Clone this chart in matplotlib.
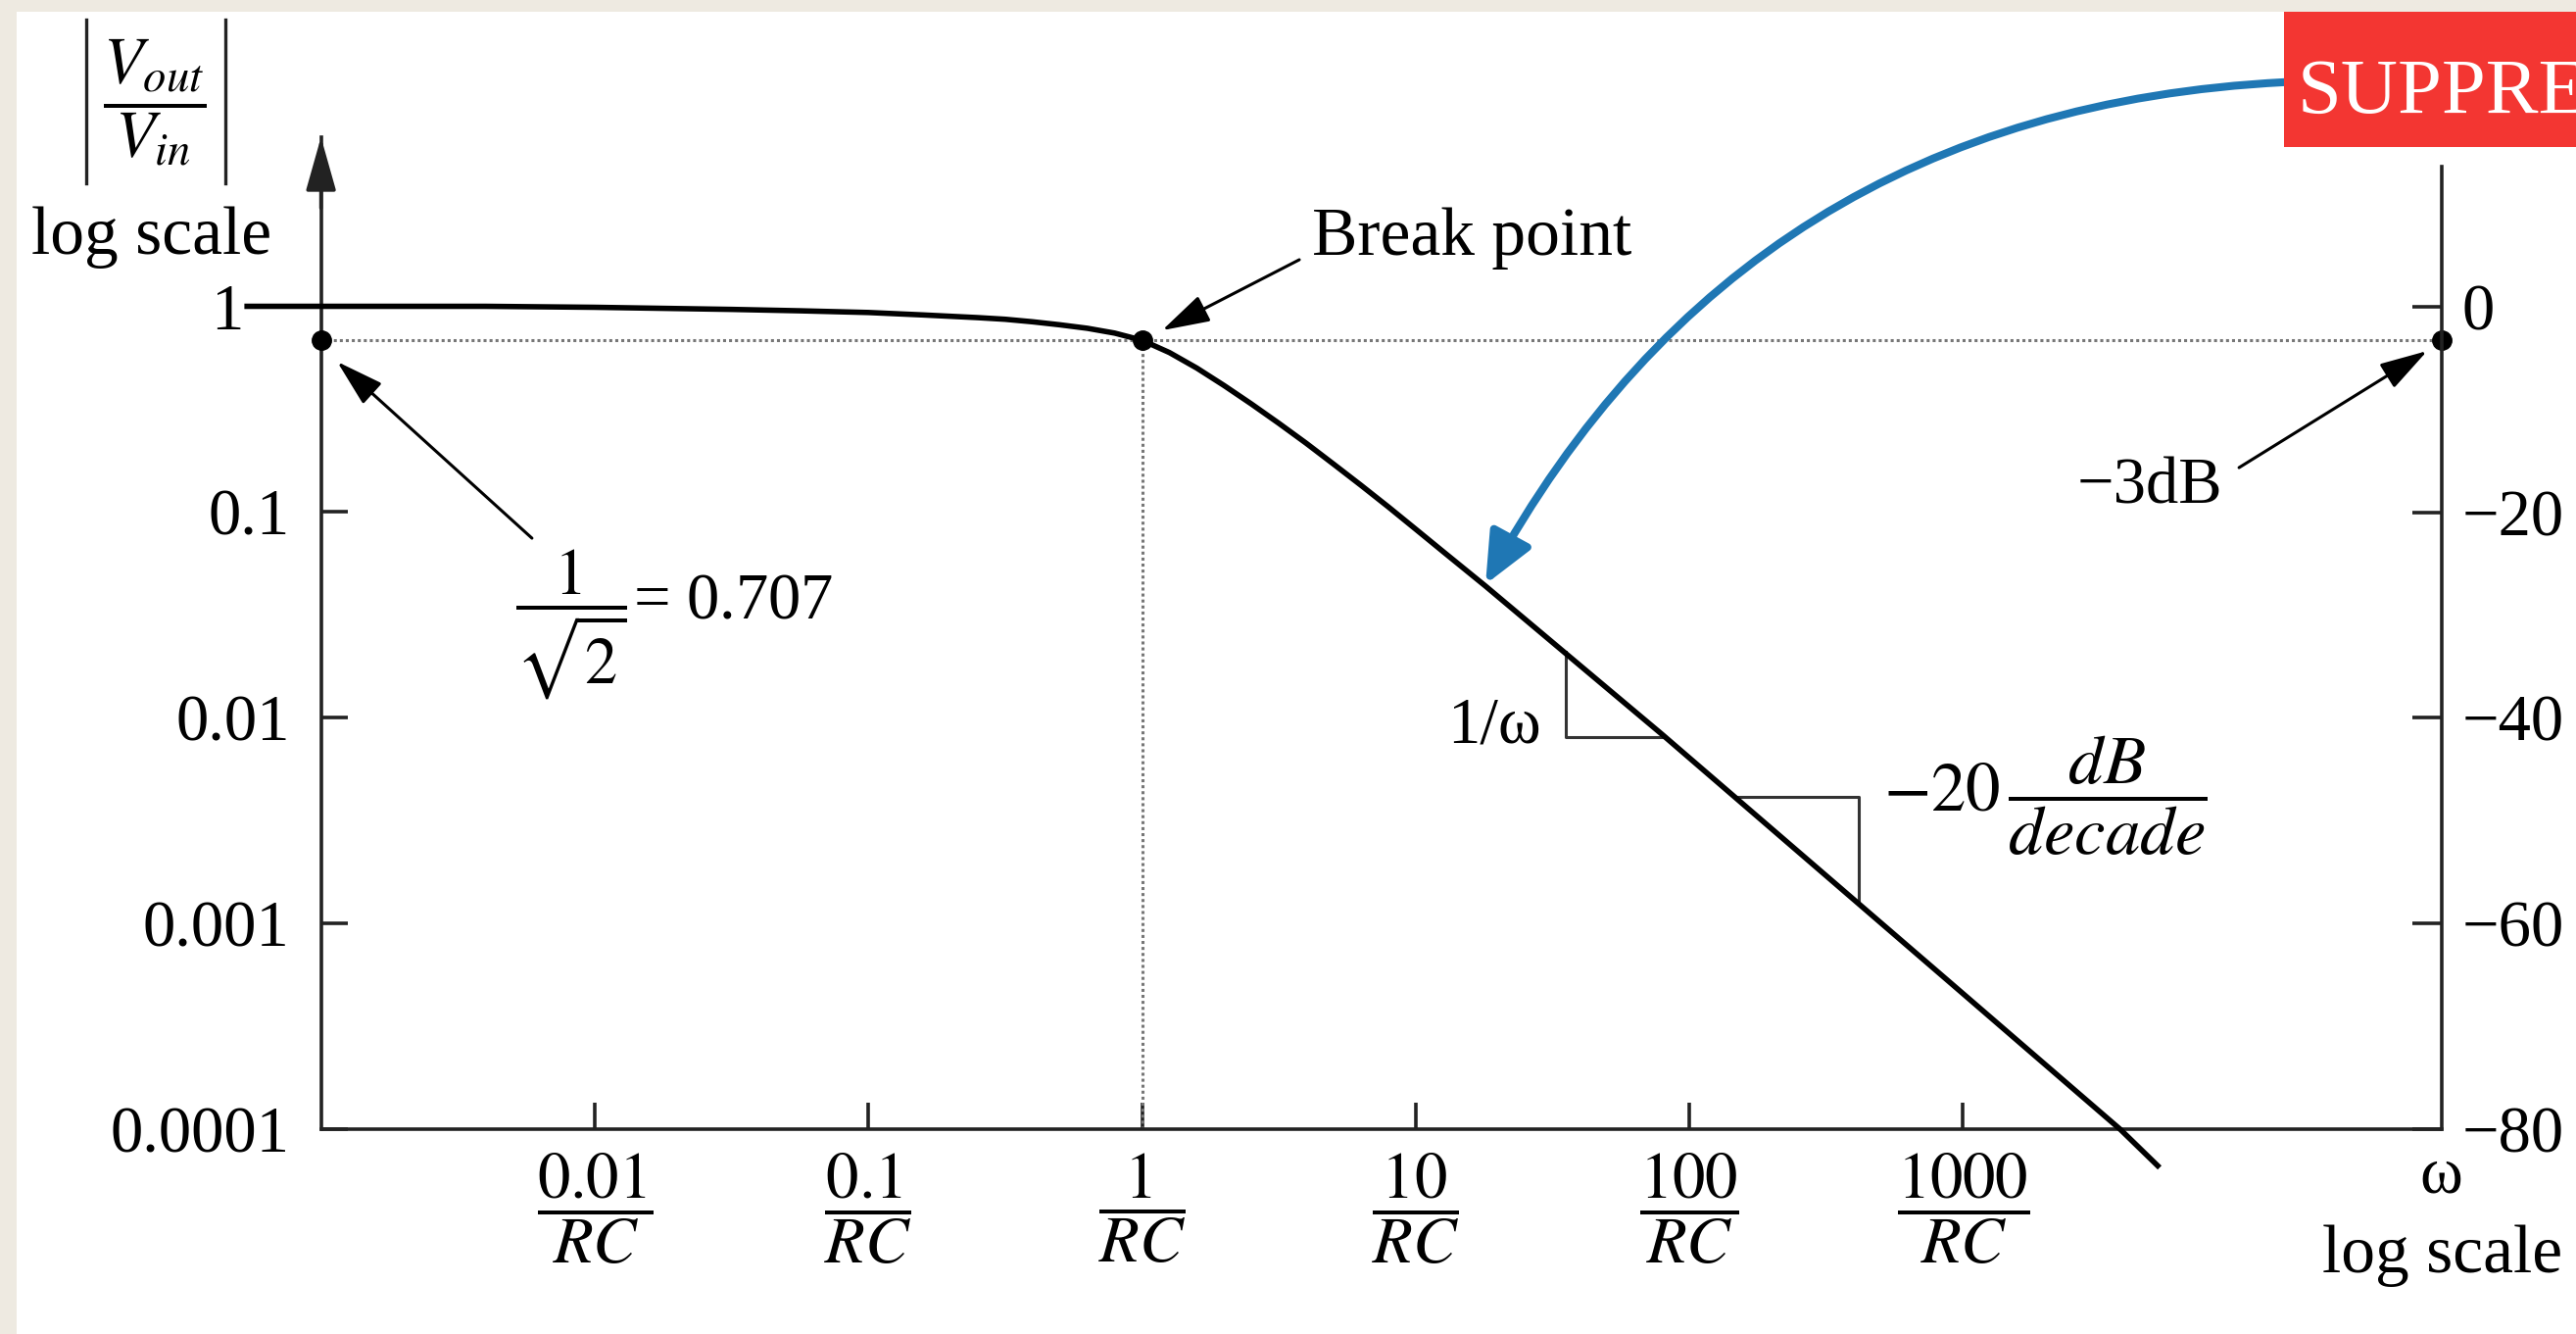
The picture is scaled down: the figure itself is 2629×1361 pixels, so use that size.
import matplotlib
matplotlib.use("Agg")
import matplotlib.pyplot as plt
from matplotlib.patches import Rectangle
from matplotlib.lines import Line2D
from matplotlib.ticker import NullLocator

plt.rcParams['font.family'] = 'Liberation Serif'
plt.rcParams['mathtext.fontset'] = 'stix'

# magnitude curve (w in units of 1/RC)
w = [0.000537, 0.00398, 0.01, 0.0316, 0.0562, 0.1, 0.158, 0.251, 0.316, 0.398,
     0.501, 0.631, 0.794, 1.0, 1.259, 1.585, 1.995, 2.512, 3.162, 3.981,
     5.012, 6.310, 7.943, 10.0, 12.59, 17.99, 79.43, 1000, 3758, 5140]
gain = [1.0, 1.0, 0.989, 0.966, 0.951, 0.933, 0.908, 0.881, 0.865, 0.841,
        0.813, 0.782, 0.741, 0.684, 0.596, 0.501, 0.412, 0.335, 0.270, 0.216,
        0.171, 0.135, 0.106, 0.0826, 0.0643, 0.0437, 0.00832, 0.000457, 0.0001, 0.0000667]

break_w = 1.0
break_gain = 0.684

x_ticks = [0.01, 0.1, 1, 10, 100, 1000]
x_labels = [r'$\dfrac{0.01}{RC}$', r'$\dfrac{0.1}{RC}$', r'$\dfrac{1}{RC}$',
            r'$\dfrac{10}{RC}$', r'$\dfrac{100}{RC}$', r'$\dfrac{1000}{RC}$']
y_ticks = [1, 0.1, 0.01, 0.001, 0.0001]
y_labels = ['', '0.1', '0.01', '0.001', '0.0001']
db_ticks = [0, -20, -40, -60, -80]
db_labels = ['0', '\u221220', '\u221240', '\u221260', '\u221280']

# slope triangles
tri1_w = [35.3, 35.3, 81.9]
tri1_g = [0.0209, 0.00805, 0.00805]
tri2_w = [146, 416, 416]
tri2_g = [0.00413, 0.00413, 0.00125]

xmin, xmax = 1e-3, 56100
ymin, ymax = 1e-4, 6.63
W, H = 2629, 1361

fig = plt.figure(figsize=(W / 100, H / 100), dpi=100, facecolor='#eeeae1')
fig.add_artist(Rectangle((17 / W, 0), 1, 1 - 12 / H, transform=fig.transFigure,
                         facecolor='white', edgecolor='none', zorder=-10))

ax = fig.add_axes([0.12461, 0.15327, 0.82328, 0.74386])
ax.patch.set_visible(False)
ax.set_xscale('log')
ax.set_yscale('log')
ax.set_xlim(xmin, xmax)
ax.set_ylim(ymin, ymax)
ax.set_xticks(x_ticks, x_labels)
ax.set_yticks(y_ticks, y_labels)
ax.xaxis.set_minor_locator(NullLocator())
ax.yaxis.set_minor_locator(NullLocator())
ax.tick_params(axis='y', direction='in', length=19.5, width=2.6, pad=23,
               labelsize=48, color='#222')
ax.tick_params(axis='x', direction='in', length=19.5, width=2.6, pad=16,
               labelsize=48, color='#222')
ax.spines['top'].set_visible(False)
ax.spines['right'].set_visible(False)
for s in ['left', 'bottom']:
    ax.spines[s].set_linewidth(2.6)
    ax.spines[s].set_color('#222')

ax2 = ax.twinx()
ax2.set_ylim(-80, 16.44)
ax2.set_yticks(db_ticks, db_labels)
for s in ['top', 'left', 'bottom']:
    ax2.spines[s].set_visible(False)
ax2.spines['right'].set_bounds(-80, 13.58)
ax2.spines['right'].set_linewidth(2.6)
ax2.spines['right'].set_color('#222')
ax2.tick_params(axis='y', direction='in', length=21.6, width=2.6, pad=15,
                labelsize=48, color='#222')

# dotted guides at the break point
ax.axhline(break_gain, color='#777', lw=2.2, ls=(0, (1, 1)))
ax.plot([break_w, break_w], [ymin, break_gain], color='#777', lw=2.2, ls=(0, (1, 1)))

ax.plot(w, gain, color='black', lw=4, clip_on=False, zorder=3,
        solid_joinstyle='round')
ax.plot([xmin, break_w, xmax], [break_gain] * 3, 'o', color='black', ms=14,
        clip_on=False, zorder=4)

ax.plot(tri1_w, tri1_g, color='#333', lw=2.2)
ax.plot(tri2_w, tri2_g, color='#333', lw=2.2)

# arrow on top of the y axis
ax.annotate('', xy=(xmin, ymax), xytext=(xmin, 3.0), annotation_clip=False,
            arrowprops=dict(arrowstyle='-|>,head_length=0.85,head_width=0.24',
                            mutation_scale=40, color='#222', lw=2.6,
                            shrinkA=0, shrinkB=0))

arrow_kw = dict(arrowstyle='-|>,head_length=0.75,head_width=0.22', mutation_scale=40,
                color='black', lw=2.2, shrinkA=0, shrinkB=0)

ax.text(0.000523, 1.0, '1', ha='right', va='center_baseline', fontsize=48)

ax.text(4.18, 1.78, 'Break point', ha='left', va='baseline', fontsize=50)
ax.annotate('', xy=(1.184, 0.764), xytext=(3.755, 1.684), arrowprops=arrow_kw,
            annotation_clip=False)

ax.text(0.00513, 0.0284, r'$\dfrac{1}{\sqrt{2}}$= 0.707', ha='left', va='center',
        fontsize=48)
ax.annotate('', xy=(0.001146, 0.538), xytext=(0.0059, 0.0747), arrowprops=arrow_kw,
            annotation_clip=False)

ax.text(4810, 0.132, '\u22123dB', ha='center', va='center', fontsize=48)
ax.annotate('', xy=(49650, 0.607), xytext=(10190, 0.1645), arrowprops=arrow_kw,
            annotation_clip=False)

ax.text(19.37, 0.0091, '1/\u03c9', ha='center', va='center', fontsize=48)
ax.text(511, 0.0042, r'$-20\,\dfrac{dB}{decade}$', ha='left', va='center', fontsize=51)

# |Vout / Vin| label with thin bars
fig.text(158 / W, 1 - 104 / H, r'$\dfrac{V_{out}}{V_{in}}$',
         ha='center', va='center', fontsize=48)
for bx in [88, 230]:
    fig.add_artist(Line2D([bx / W, bx / W], [1 - 20 / H, 1 - 187 / H],
                          transform=fig.transFigure, color='#222', lw=2.4))
fig.text(155 / W, 1 - 242 / H, 'log scale', ha='center', va='center', fontsize=50)
fig.text(2491 / W, 1 - 1200 / H, '\u03c9', ha='center', va='center', fontsize=48)
fig.text(2493 / W, 1 - 1281 / H, 'log scale', ha='center', va='center', fontsize=50)

# overlay callout
fig.add_artist(Rectangle((2331 / W, 1 - 150 / H), 1, 138 / H, transform=fig.transFigure,
                         facecolor='#f33632', edgecolor='none', zorder=5))
fig.text(2345 / W, 1 - 116 / H, 'SUPPRESSED', color='white', fontsize=58,
         ha='left', va='baseline', zorder=6)
ax.annotate('', xy=(17.99, 0.0446), xytext=(14890, 12.27), annotation_clip=False,
            arrowprops=dict(arrowstyle='-|>,head_length=0.9,head_width=0.4',
                            mutation_scale=35, color='#1f77b4', lw=5.8,
                            shrinkA=0, shrinkB=0, connectionstyle='arc3,rad=0.28'),
            zorder=6)

fig.savefig('out.png', dpi=100, facecolor=fig.get_facecolor())
